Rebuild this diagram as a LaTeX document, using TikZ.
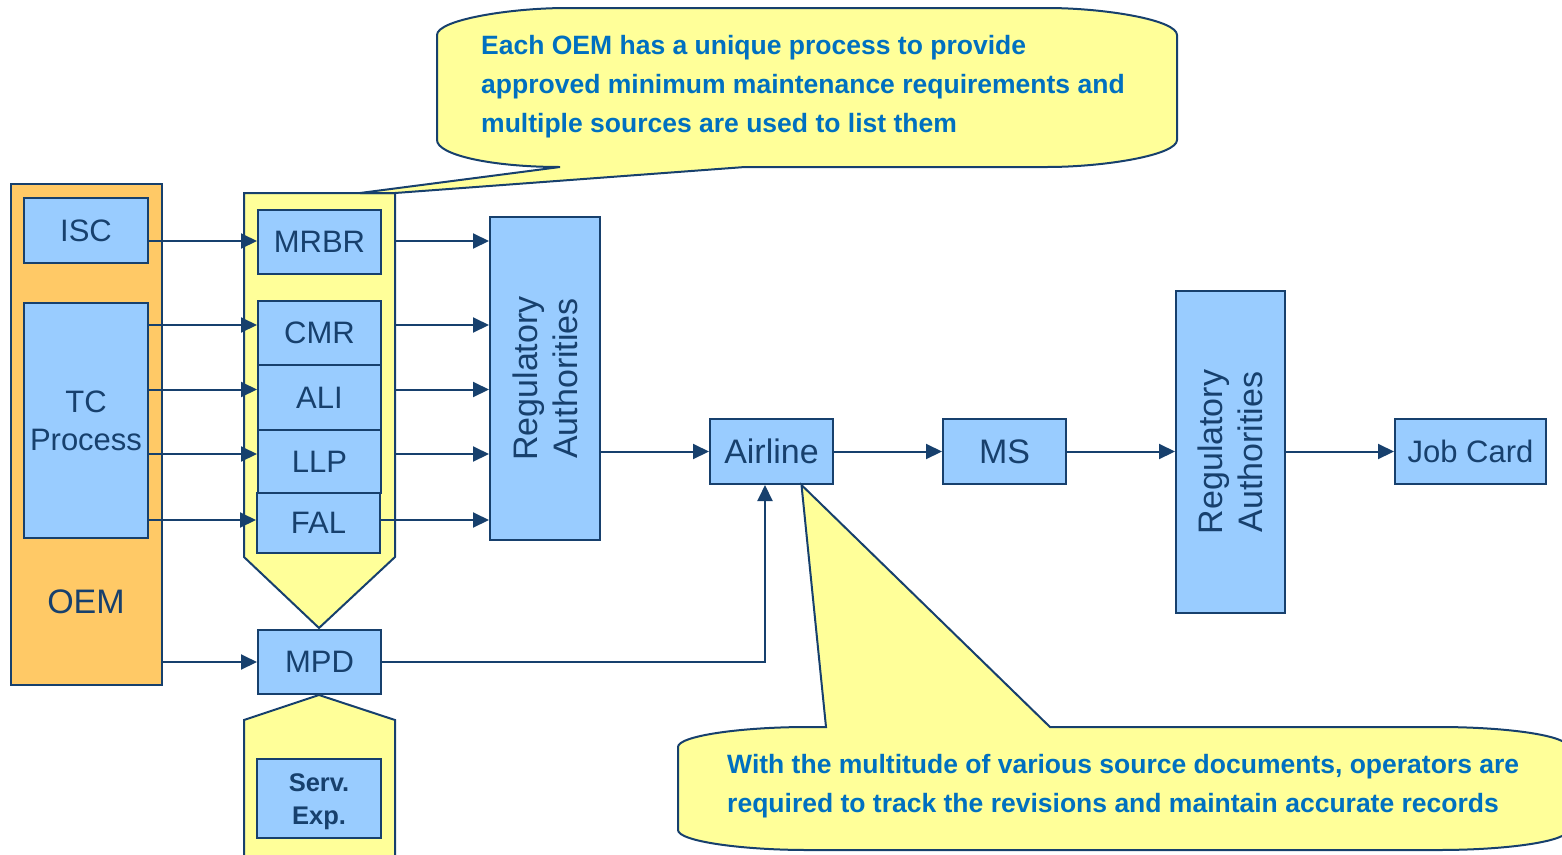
\documentclass[tikz,border=0pt]{standalone}
\usepackage{fontspec}
\setmainfont{Liberation Sans}
\usetikzlibrary{positioning}
\usetikzlibrary{arrows.meta}
\definecolor{ink}{HTML}{17406D}
\definecolor{boxblue}{HTML}{99CCFF}
\definecolor{oemorange}{HTML}{FFC966}
\definecolor{notey}{HTML}{FFFF99}
\definecolor{notetext}{HTML}{0070C0}
\tikzset{
    boxn/.style = {rectangle, line width=2pt, draw=ink, fill=boxblue, text=ink, inner sep=0pt, align=center, font=\fontsize{31}{38}\selectfont},
    boxb/.style = {boxn, font=\fontsize{34}{40}\selectfont},
    servtxt/.style = {align=center, inner sep=0pt, text=ink, font=\fontsize{25.5}{33}\selectfont\bfseries},
    oembox/.style = {rectangle, line width=2pt, draw=ink, fill=oemorange, inner sep=0pt},
    holder/.style = {line width=2pt, draw=ink, fill=notey, line join=miter},
    bubble/.style = {line width=2pt, draw=ink, fill=notey},
    notetxt/.style = {anchor=west, align=left, inner sep=0pt, text=notetext, font=\fontsize{26.5}{39}\selectfont\bfseries},
    vtxt/.style = {rotate=90, align=center, inner sep=0pt, text=ink, font=\fontsize{34}{40}\selectfont},
    edgen/.style = {-{Triangle[length=16pt,width=15pt]}, line width=2pt, ink},
}

\begin{document}
\begin{tikzpicture}[x=1pt,y=-1pt]
\path[use as bounding box] (0,0) rectangle (1562,854);
\clip (0,0) rectangle (1562,854);
% OEM side
\node[oembox, minimum width=151pt, minimum height=501pt] at (86.5,434.5) (oem) {};
\node[text=ink, font=\fontsize{34}{40}\selectfont] at (86,602) (oemlbl) {OEM};
\node[boxn, minimum width=124pt, minimum height=65pt] at (86,230.5) (isc) {ISC};
\node[boxn, minimum width=124pt, minimum height=235pt] at (86,420.5) (tc) {TC\\Process};
% yellow holders
\draw[holder] (244,193) -- (395,193) -- (395,557) -- (319,628) -- (244,557) -- cycle;
\draw[holder] (319,695) -- (395,720) -- (395,870) -- (244,870) -- (244,720) -- cycle;
\coordinate (hold) at (395,193);
%
\node[boxn, minimum width=123pt, minimum height=64pt] at (319.5,242) (mrbr) {MRBR};
\node[boxn, minimum width=123pt, minimum height=64pt] at (319.5,333) (cmr) {CMR};
\node[boxn, minimum width=123pt, minimum height=65pt] at (319.5,397.5) (ali) {ALI};
\node[boxn, minimum width=123pt, minimum height=63pt] at (319.5,461.5) (llp) {LLP};
\node[boxn, minimum width=123pt, minimum height=60pt] at (318.5,523) (fal) {FAL};
\node[boxn, minimum width=123pt, minimum height=64pt] at (319.5,662) (mpd) {MPD};
\node[boxn, minimum width=124pt, minimum height=79pt] at (319,798.5) (serv) {};
\node[servtxt] at ([yshift=-3.5pt]serv.center) (servlbl) {Serv.\\Exp.};
% right side
\node[boxn, minimum width=110pt, minimum height=323pt] at (545,378.5) (reg1) {};
\node[vtxt] at (reg1) (reg1txt) {Regulatory\\Authorities};
\node[boxb, minimum width=123pt, minimum height=65pt] at (771.5,451.5) (airline) {Airline};
\node[boxb, minimum width=123pt, minimum height=65pt] at (1004.5,451.5) (ms) {MS};
\node[boxn, minimum width=109pt, minimum height=322pt] at (1230.5,452) (reg2) {};
\node[vtxt] at (reg2) (reg2txt) {Regulatory\\Authorities};
\node[boxn, minimum width=151pt, minimum height=65pt] at (1470.5,451.5) (jobcard) {Job Card};
%
\coordinate (ymrbr) at ([yshift=1pt]mrbr.west);
\coordinate (ycmr) at ([yshift=8pt]cmr.west);
\coordinate (yali) at ([yshift=8pt]ali.west);
\coordinate (yllp) at ([yshift=7.5pt]llp.west);
\coordinate (yfal) at ([yshift=3pt]fal.west);
\coordinate (ain) at ([xshift=-6.5pt]airline.south);
\coordinate (tip) at ([xshift=30pt]airline.south);
%
\draw[edgen] (isc.east |- ymrbr) -- (ymrbr);
\draw[edgen] (tc.east |- ycmr) -- (ycmr);
\draw[edgen] (tc.east |- yali) -- (yali);
\draw[edgen] (tc.east |- yllp) -- (yllp);
\draw[edgen] (tc.east |- yfal) -- (yfal);
\draw[edgen] (oem.east |- mpd) -- (mpd);
\draw[edgen] (ymrbr -| hold) -- (ymrbr -| reg1.west);
\draw[edgen] (ycmr -| hold) -- (ycmr -| reg1.west);
\draw[edgen] (yali -| hold) -- (yali -| reg1.west);
\draw[edgen] (yllp -| hold) -- (yllp -| reg1.west);
\draw[edgen] (yfal -| fal.east) -- (yfal -| reg1.west);
\draw[edgen] (reg1.east |- airline) -- (airline);
\draw[edgen] (mpd) -| (ain);
\draw[edgen] (airline) -- (ms);
\draw[edgen] (ms) -- (ms -| reg2.west);
\draw[edgen] (reg2.east |- jobcard) -- (jobcard);
% callouts
\draw[bubble] (437,140) -- (437,35) .. controls (437,20) and (509,8) .. (567,8) -- (1047,8)
    .. controls (1105,8) and (1177,20) .. (1177,35) -- (1177,140)
    .. controls (1177,155) and (1105,167) .. (1047,167) -- (745,167) -- (hold) -- (360,193)
    -- (560,167) .. controls (492,167) and (437,155) .. (437,140) -- cycle;
\node[notetxt] at (481,87) (note1) {Each OEM has a unique process to provide\\approved minimum maintenance requirements and\\multiple sources are used to list them};
\draw[bubble] (678,747) .. controls (678,736) and (740,727) .. (808,727) -- (826,727) -- (tip)
    -- (1050,727) -- (1438,727) .. controls (1510,727) and (1568,736) .. (1568,747)
    -- (1568,830) .. controls (1568,841) and (1510,850) .. (1438,850) -- (808,850)
    .. controls (740,850) and (678,841) .. (678,830) -- cycle;
\node[notetxt] at (727,786) (note2) {With the multitude of various source documents, operators are\\required to track the revisions and maintain accurate records};
\end{tikzpicture}
\end{document}
